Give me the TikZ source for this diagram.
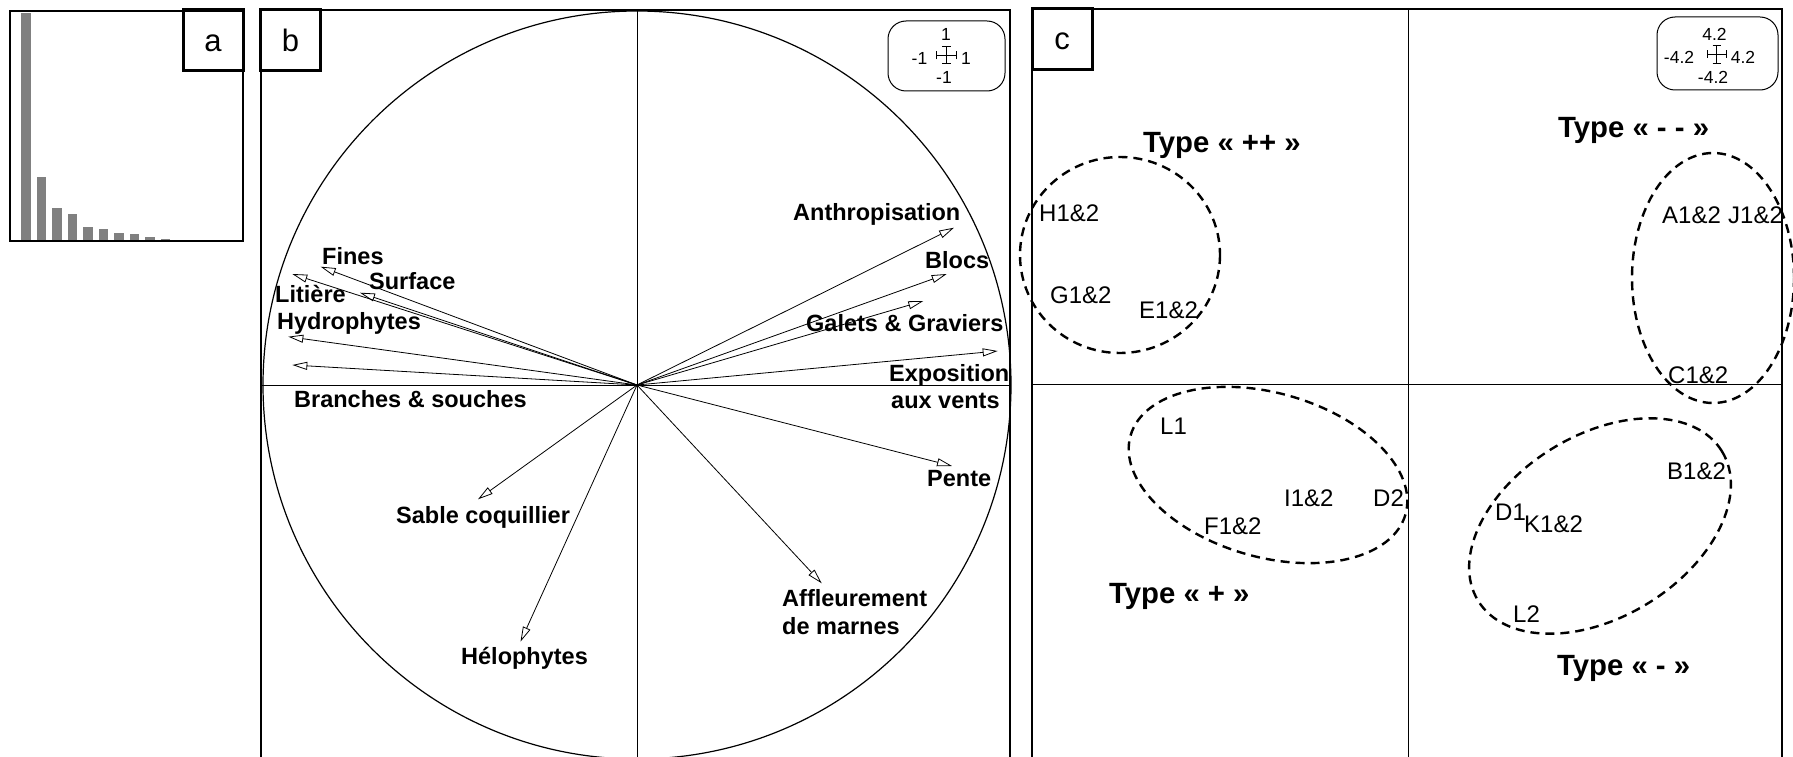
\documentclass[tikz,border=0pt]{standalone}
\usepackage{fontspec}
\setmainfont{Liberation Sans}
\usetikzlibrary{arrows.meta}
\definecolor{bargray}{RGB}{128,128,128}
\begin{document}
\begin{tikzpicture}[x=1pt,y=-1pt,
  frame/.style={line width=1.2pt},
  axis/.style={line width=0.9pt},
  panelbox/.style={draw,line width=3pt,minimum width=60pt,minimum height=61pt,inner sep=0pt,
    font=\fontsize{31}{34}\selectfont,text height=22pt,text depth=0pt},
  vec/.style={line width=0.8pt,-{Triangle[open,length=15pt,width=8pt,line width=0.8pt]}},
  lab/.style={font=\fontsize{23.5}{26}\selectfont\bfseries,anchor=base west,inner sep=0pt},
  ptlab/.style={font=\fontsize{24}{27}\selectfont,anchor=base west,inner sep=0pt},
  typ/.style={font=\fontsize{29.3}{33}\selectfont\bfseries,anchor=base west,inner sep=0pt},
  leg/.style={font=\fontsize{17.5}{20}\selectfont,anchor=base,inner sep=0pt},
  legbox/.style={draw,line width=1pt,rounded corners=18pt,inner sep=0pt},
  grp/.style={line width=2.4pt,dash pattern=on 9pt off 6pt},
  tick/.style={line width=0.8pt}]
\useasboundingbox (0,0) rectangle (1793,757);
\clip (0,0) rectangle (1793,757);

% ---------- panel a ----------
\foreach \i/\t in {1/13,2/177,3/208,4/214,5/227,6/229,7/233,8/234,9/237,10/239,11/240,12/240,13/240.4,14/240.4}
  \fill[bargray] ({21+15.5*(\i-1)},\t) rectangle ++(9.5,{241-\t});
\draw[frame] (10,11) rectangle (243,241);
\draw[line width=2pt] (10,241) -- (243,241);
\node[panelbox] (pa) at (213,40.5) {a};

% ---------- panel b ----------
\draw[frame] (261,800) -- (261,10) -- (1010,10) -- (1010,800);
\coordinate (O) at (637,385);
\draw[axis] (261,385) -- (1010,385);
\draw[axis] (637,10) -- (637,800);
\draw[line width=1.2pt] (O) circle [radius=374];
\node[panelbox] (pb) at (290.5,40.5) {b};

\node[legbox,minimum width=117pt,minimum height=70pt] (legb) at (946.5,56) {};
\node[leg] (lb1) at (946,40.7) {1};
\node[leg] (lb2) at (919.5,64.5) {-1};
\node[leg] (lb3) at (966,64.5) {1};
\node[leg] (lb4) at (944,83.3) {-1};
\coordinate (cb) at (946.7,55);
\draw[tick] ([xshift=-10pt]cb) -- ([xshift=10pt]cb);
\draw[tick] ([yshift=-8.3pt]cb) -- ([yshift=8.3pt]cb);
\draw[tick] ([xshift=-10pt,yshift=-4.3pt]cb) -- ([xshift=-10pt,yshift=4.3pt]cb);
\draw[tick] ([xshift=10pt,yshift=-4.3pt]cb) -- ([xshift=10pt,yshift=4.3pt]cb);
\draw[tick] ([xshift=-4.3pt,yshift=-8.3pt]cb) -- ([xshift=4.3pt,yshift=-8.3pt]cb);
\draw[tick] ([xshift=-4.3pt,yshift=8.3pt]cb) -- ([xshift=4.3pt,yshift=8.3pt]cb);

\coordinate (tFines) at (320.7,266.7);
\coordinate (tLit) at (292.3,274);
\coordinate (tSurf) at (360,292.7);
\coordinate (tHydro) at (288.3,336.7);
\coordinate (tBranch) at (292.3,365);
\coordinate (tAnthro) at (954,227.7);
\coordinate (tBlocs) at (946.7,274);
\coordinate (tGalets) at (923.3,301);
\coordinate (tExpo) at (997.7,351);
\coordinate (tPente) at (952,466);
\coordinate (tSable) at (478,499.3);
\coordinate (tHelo) at (520.5,641.7);
\coordinate (tAffl) at (821.7,583.3);
\foreach \t in {tFines,tLit,tSurf,tHydro,tBranch,tAnthro,tBlocs,tGalets,tExpo,tPente,tSable,tHelo,tAffl}
  \draw[vec] (O) -- (\t);

\node[lab] (nFines) at (322,264) {Fines};
\node[lab] (nSurf) at (369,289) {Surface};
\node[lab] (nLit) at (275,302) {Litière};
\node[lab] (nHydro) at (277,329) {Hydrophytes};
\node[lab] (nBranch) at (294,407) {Branches \& souches};
\node[lab] (nAnthro) at (793,220.7) {Anthropisation};
\node[lab] (nBlocs) at (925,268) {Blocs};
\node[lab] (nGalets) at (806,331) {Galets \& Graviers};
\node[lab] (nExpo) at (889,381) {Exposition};
\node[lab] (nVents) at (891,408) {aux vents};
\node[lab] (nPente) at (927,486.7) {Pente};
\node[lab] (nSable) at (396,523) {Sable coquillier};
\node[lab] (nHelo) at (461,664) {Hélophytes};
\node[lab] (nAffl) at (782,606.7) {Affleurement};
\node[lab] (nMarnes) at (782,634) {de marnes};

% ---------- panel c ----------
\draw[frame] (1032,800) -- (1032,9) -- (1782,9) -- (1782,800);
\draw[axis] (1032,384) -- (1782,384);
\draw[axis] (1408,9) -- (1408,800);
\node[panelbox] (pc) at (1062,39) {c};

\node[legbox,minimum width=121pt,minimum height=73pt] (legc) at (1717.5,53.5) {};
\node[leg] (lc1) at (1714.5,40.7) {4.2};
\node[leg] (lc2) at (1679,64) {-4.2};
\node[leg] (lc3) at (1743,64) {4.2};
\node[leg] (lc4) at (1713,84) {-4.2};
\coordinate (cc) at (1716.7,54);
\draw[tick] ([xshift=-9.7pt]cc) -- ([xshift=9.7pt]cc);
\draw[tick] ([yshift=-9pt]cc) -- ([yshift=9pt]cc);
\draw[tick] ([xshift=-9.7pt,yshift=-4pt]cc) -- ([xshift=-9.7pt,yshift=4pt]cc);
\draw[tick] ([xshift=9.7pt,yshift=-4pt]cc) -- ([xshift=9.7pt,yshift=4pt]cc);
\draw[tick] ([xshift=-4pt,yshift=-9pt]cc) -- ([xshift=4pt,yshift=-9pt]cc);
\draw[tick] ([xshift=-4pt,yshift=9pt]cc) -- ([xshift=4pt,yshift=9pt]cc);

% groups
\draw[grp] (1120,255) ellipse [x radius=100, y radius=98];
\draw[grp] (1713,278) ellipse [x radius=81, y radius=125];
\draw[grp,rotate around={-16:(1268,475)}] (1268,475) ellipse [x radius=143, y radius=82];
\draw[grp,rotate around={31.5:(1600,526)}] (1600,526) ellipse [x radius=143, y radius=91];

\node[typ] (tpp) at (1143,153) {Type « ++ »};
\node[typ] (tmm) at (1558,138) {Type « - - »};
\node[typ] (tp) at (1109,603) {Type « + »};
\node[typ] (tm) at (1557,675) {Type « - »};

\node[ptlab] (H) at (1039,221) {H1\&2};
\node[ptlab] (G) at (1050,303) {G1\&2};
\node[ptlab] (E) at (1139,318) {E1\&2};
\node[ptlab] (A) at (1662,223) {A1\&2};
\node[ptlab] (J) at (1728,223) {J1\&2};
\node[ptlab] (C) at (1668,383) {C1\&2};
\node[ptlab] (L1) at (1160,434) {L1};
\node[ptlab] (I) at (1284,506) {I1\&2};
\node[ptlab] (D2) at (1373,506) {D2};
\node[ptlab] (F) at (1204,534) {F1\&2};
\node[ptlab] (B) at (1667,479) {B1\&2};
\node[ptlab] (D1) at (1495,520) {D1};
\node[ptlab] (K) at (1524,532) {K1\&2};
\node[ptlab] (L2) at (1513,622) {L2};
\end{tikzpicture}
\end{document}
